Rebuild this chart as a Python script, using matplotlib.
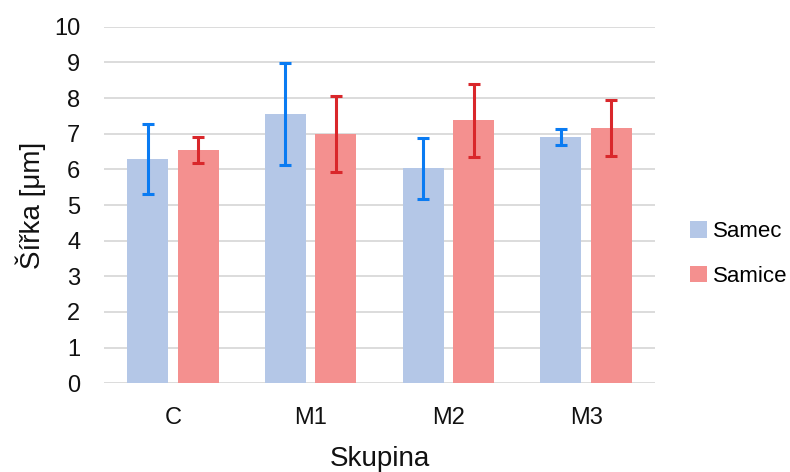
import matplotlib
matplotlib.use("Agg")
import matplotlib.pyplot as plt
import numpy as np
from matplotlib.patches import Patch
from matplotlib import font_manager

categories = ["C", "M1", "M2", "M3"]
samec = [6.30, 7.56, 6.03, 6.90]
samec_err = [0.98, 1.43, 0.86, 0.22]
samice = [6.55, 6.99, 7.37, 7.16]
samice_err = [0.37, 1.06, 1.03, 0.79]
yticks = list(range(0, 11))

names = {f.name for f in font_manager.fontManager.ttflist}
fam = ["Liberation Sans Narrow", "Liberation Sans", "DejaVu Sans"]
fam = [f for f in fam if f in names] + ["DejaVu Sans"]
plt.rcParams["font.family"] = fam

c_samec = "#b4c7e7"
c_samice = "#f4908f"
e_samec = "#0a7bf2"
e_samice = "#d9272b"

fig = plt.figure(figsize=(7.9, 4.72), dpi=100)
ax = fig.add_axes([104/790, 1-383.3/472, (655-104)/790, (383.3-26.7)/472])

x = np.arange(len(categories))
w = 0.298
off = 0.184
ax.bar(x - off, samec, width=w, color=c_samec, zorder=2)
ax.bar(x + off, samice, width=w, color=c_samice, zorder=2)
ax.errorbar(x - off, samec, yerr=samec_err, fmt="none", ecolor=e_samec,
            elinewidth=2.2, capsize=4, capthick=2.2, zorder=3)
ax.errorbar(x + off, samice, yerr=samice_err, fmt="none", ecolor=e_samice,
            elinewidth=2.2, capsize=4, capthick=2.2, zorder=3)

ax.set_xlim(-0.5, len(categories) - 0.5)
ax.set_ylim(0, 10)
ax.set_yticks(yticks)
ax.set_yticklabels([str(t) for t in yticks])
ax.set_xticks(x)
ax.set_xticklabels(categories)
ax.grid(axis="y", color="#d9d9d9", linewidth=1.3, zorder=0)
ax.set_axisbelow(True)
for s in ["top", "right", "left", "bottom"]:
    ax.spines[s].set_visible(False)
ax.tick_params(axis="y", length=0, pad=17, labelsize=17, labelcolor="#111111")
ax.tick_params(axis="x", length=0, pad=17, labelsize=17, labelcolor="#111111")

ax.set_xlabel("Skupina", fontsize=20, labelpad=12, color="#111111")
ax.set_ylabel("Šířka [μm]", fontsize=20, labelpad=6, color="#111111")

handles = [Patch(facecolor=c_samec, label="Samec"), Patch(facecolor=c_samice, label="Samice")]
fig.legend(handles=handles, loc="center left", bbox_to_anchor=(690/790, 1-254/472),
           frameon=False, fontsize=16, handlelength=0.75, handleheight=0.75,
           handletextpad=0.3, labelspacing=1.05, borderpad=0, borderaxespad=0)

fig.savefig("out.png", dpi=100)
